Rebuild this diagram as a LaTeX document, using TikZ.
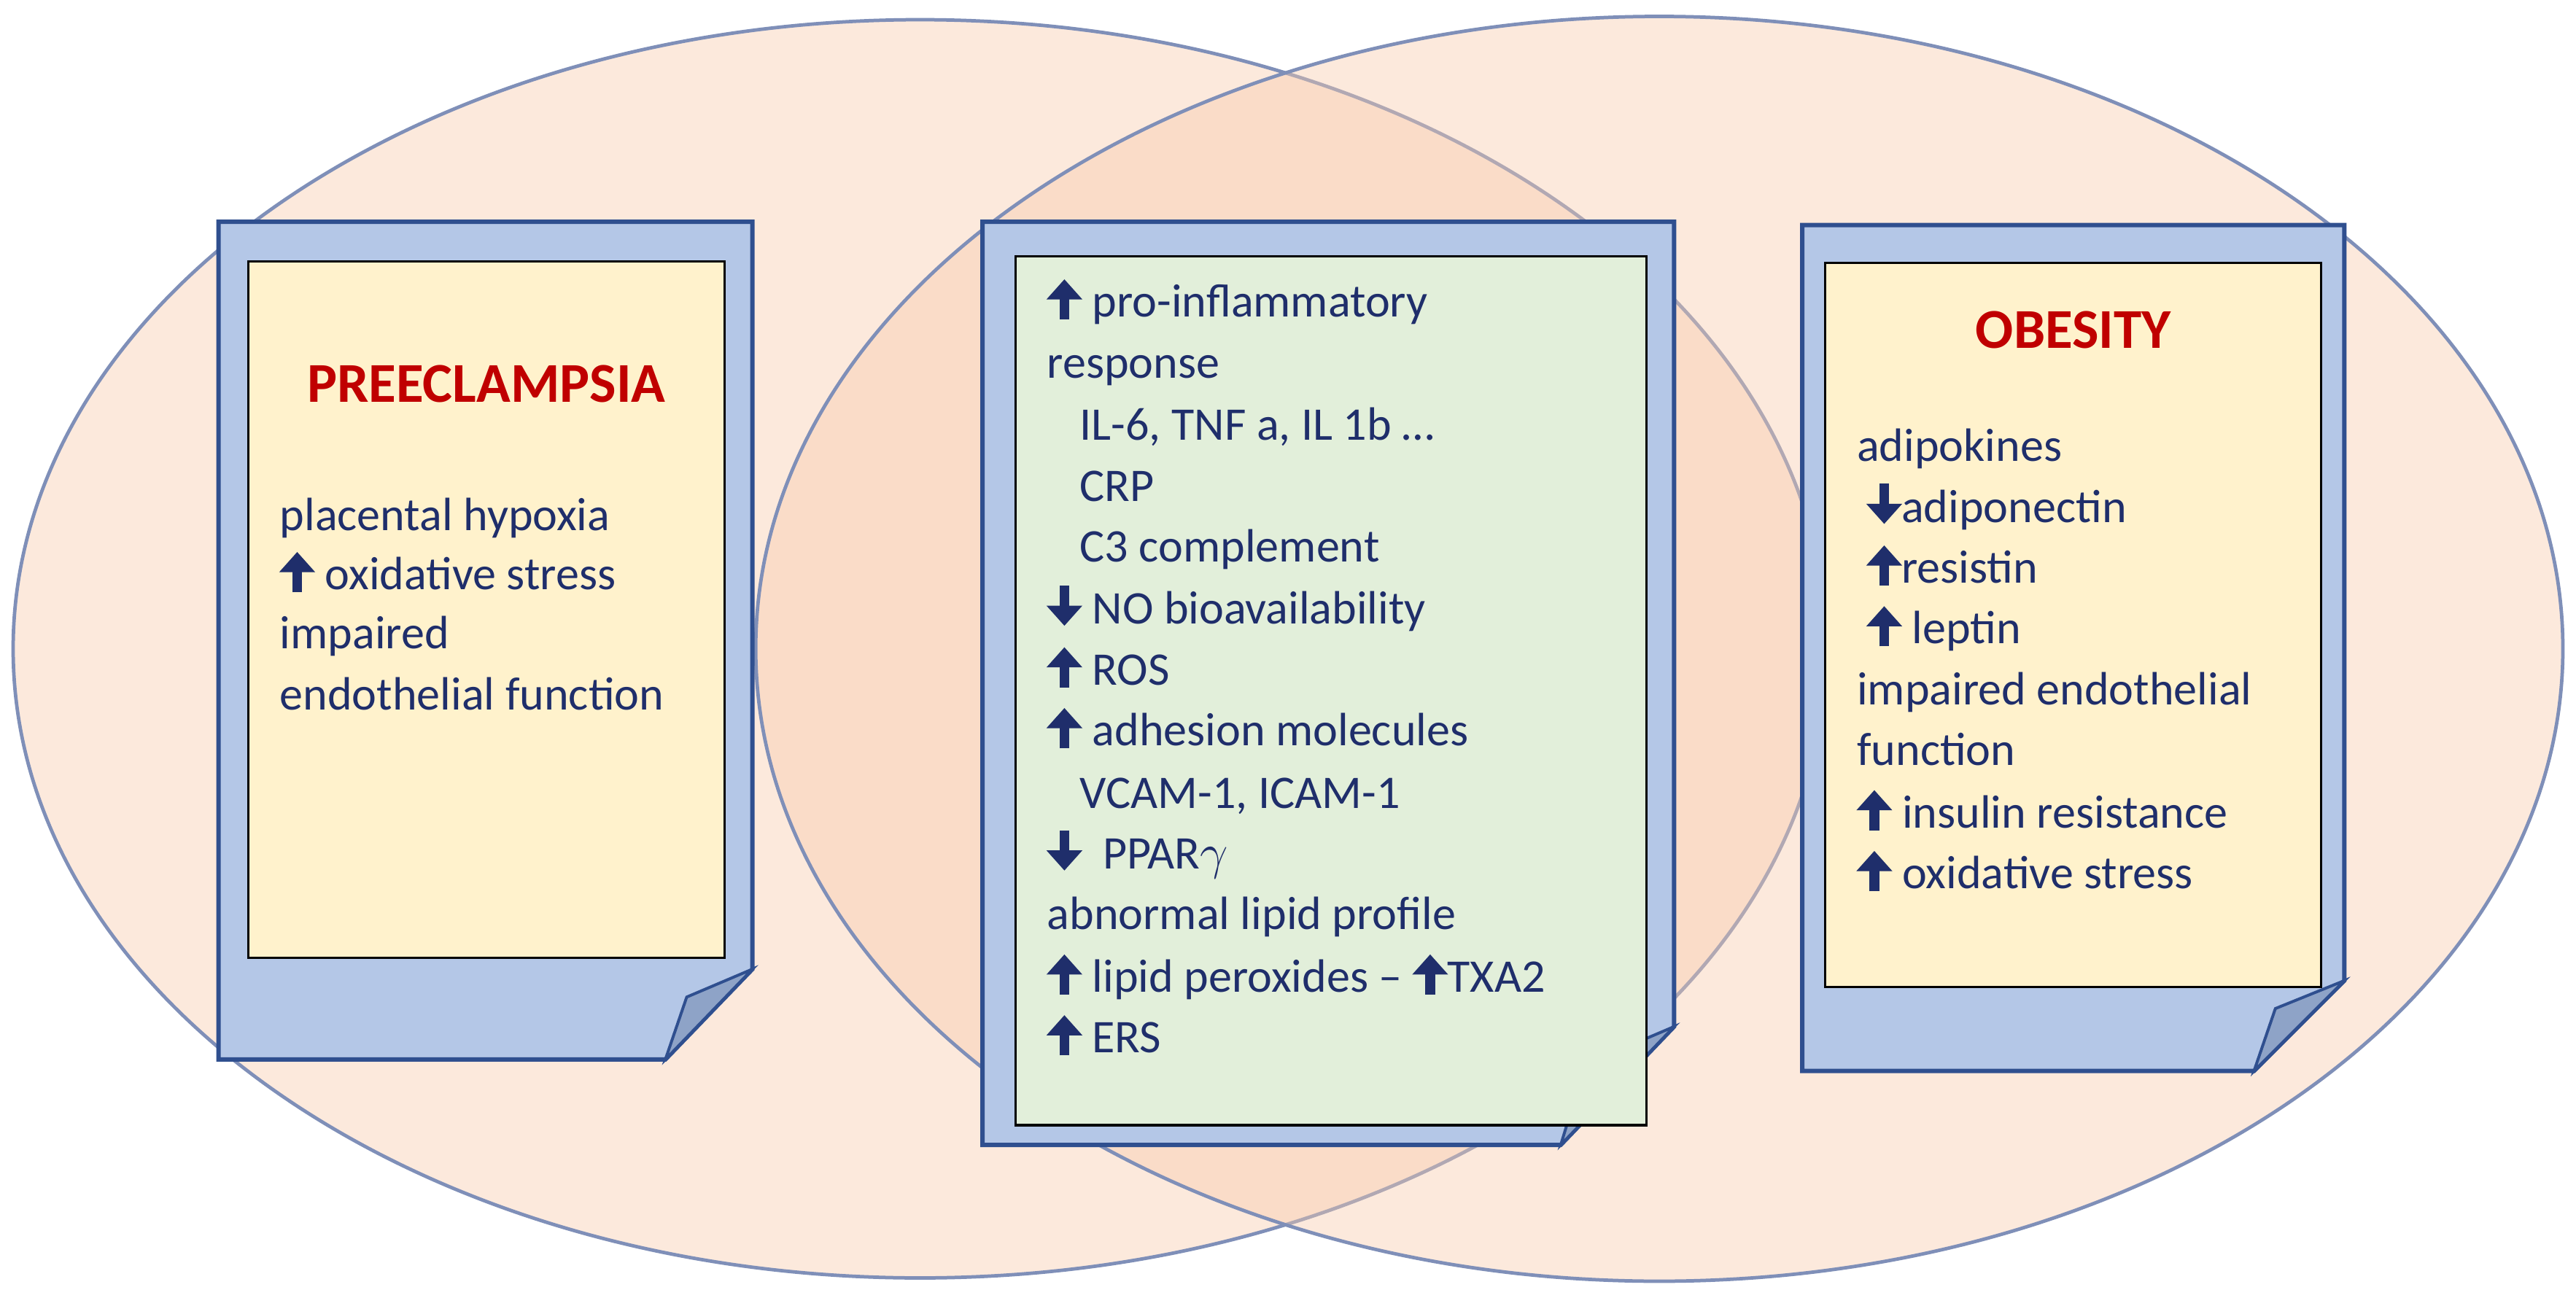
\documentclass[tikz,border=0pt]{standalone}
\usepackage{fontspec}
\setmainfont{Carlito}
\usetikzlibrary{arrows.meta}
\definecolor{navy}{HTML}{1F2E6B}
\definecolor{peach}{HTML}{F8CBAD}
\definecolor{ring}{HTML}{7F8FB8}
\definecolor{boxblue}{HTML}{B4C7E7}
\definecolor{folddark}{HTML}{8EA3C7}
\definecolor{boxline}{HTML}{2F4F8F}
\definecolor{paleyellow}{HTML}{FFF2CC}
\definecolor{palegreen}{HTML}{E2EFDA}
\definecolor{titlered}{HTML}{C00000}
\newcommand\body{\fontsize{16.2pt}{21pt}\selectfont}
\newcommand\uparr{\tikz[baseline=0pt,x=1cm,y=1cm]\draw[navy,line width=3.4pt,-{Triangle[width=12pt,length=7pt]}] (0,-0.03)--(0,0.46);}
\newcommand\dnarr{\tikz[baseline=0pt,x=1cm,y=1cm]\draw[navy,line width=3.4pt,-{Triangle[width=12pt,length=7pt]}] (0,0.47)--(0,-0.02);}
\tikzset{
  txt/.style={anchor=base west,inner sep=0pt,font=\body,text=navy},
  ttl/.style={anchor=base,inner sep=0pt,font=\fontsize{19.5pt}{23pt}\selectfont\bfseries,text=titlered},
  ell/.style={draw=ring,line width=1.2pt,fill=peach,fill opacity=0.42},
  outer/.style={draw=boxline,line width=1.5pt,fill=boxblue},
  fold/.style={draw=boxline,line width=1pt,fill=folddark},
  inner/.style={draw=black,line width=0.8pt}
}
\begin{document}
\begin{tikzpicture}[x=0.02cm,y=-0.02cm]
\useasboundingbox (0,0) rectangle (1568,790);
\fill[white] (0,0) rectangle (1568,790);
% ellipses
\draw[ell] (560,395) ellipse [x radius=552,y radius=383];
\draw[ell] (1010,395) ellipse [x radius=550,y radius=385];
% left box
\draw[outer] (133,135) -- (458,135) -- (458,590) -- (405,645) -- (133,645) -- cycle;
\draw[fold] (405,645) -- (458,590) -- (418,607) -- cycle;
\draw[inner,fill=paleyellow] (151,159) rectangle (441,583);
% central box
\draw[outer] (598,135) -- (1019,135) -- (1019,625) -- (950,697) -- (598,697) -- cycle;
\draw[fold] (950,697) -- (1019,625) -- (965,648) -- cycle;
\draw[inner,fill=palegreen] (618,156) rectangle (1002,685);
% right box
\draw[outer] (1097,137) -- (1427,137) -- (1427,597) -- (1372,652) -- (1097,652) -- cycle;
\draw[fold] (1372,652) -- (1427,597) -- (1385,614) -- cycle;
\draw[inner,fill=paleyellow] (1111,160) rectangle (1413,601);
% left text
\node[ttl] (t1) at (296,245) {PREECLAMPSIA};
\node[txt] (l1) at (170,323) {placental hypoxia};
\node[txt] (l2) at (170,359) {\uparr\ oxidative stress};
\node[txt] (l3) at (170,395) {impaired};
\node[txt] (l4) at (170,432) {endothelial function};
% central text
\node[txt] (c1) at (637,193) {\uparr\ pro-inflammatory};
\node[txt] (c2) at (637,230) {response};
\node[txt] (c3) at (657,268) {IL-6, TNF a, IL 1b …};
\node[txt] (c4) at (657,305) {CRP};
\node[txt] (c5) at (657,342) {C3 complement};
\node[txt] (c6) at (637,380) {\dnarr\ NO bioavailability};
\node[txt] (c7) at (637,417) {\uparr\ ROS};
\node[txt] (c8) at (637,454) {\uparr\ adhesion molecules};
\node[txt] (c9) at (657,492) {VCAM-1, ICAM-1};
\node[txt] (c10) at (637,529) {\dnarr\ \ PPAR$\gamma$};
\node[txt] (c11) at (637,566) {abnormal lipid profile};
\node[txt] (c12) at (637,604) {\uparr\ lipid peroxides – \uparr TXA2};
\node[txt] (c13) at (637,641) {\uparr\ ERS};
% right text
\node[ttl] (t2) at (1262,212) {OBESITY};
\node[txt] (r1) at (1130,281) {adipokines};
\node[txt] (r2) at (1136,318) {\dnarr adiponectin};
\node[txt] (r3) at (1136,355) {\uparr resistin};
\node[txt] (r4) at (1136,392) {\uparr\ leptin};
\node[txt] (r5) at (1130,429) {impaired endothelial};
\node[txt] (r6) at (1130,466) {function};
\node[txt] (r7) at (1130,504) {\uparr\ insulin resistance};
\node[txt] (r8) at (1130,541) {\uparr\ oxidative stress};
\end{tikzpicture}
\end{document}
